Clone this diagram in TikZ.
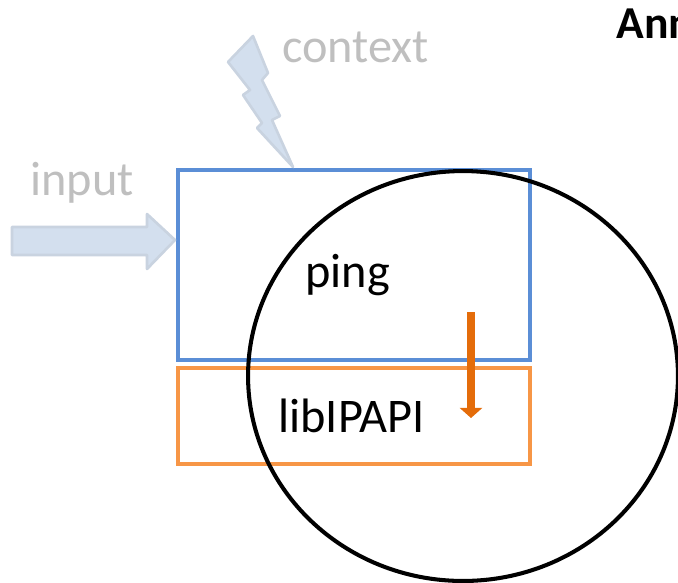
\documentclass[tikz,border=0pt]{standalone}
\usepackage{fontspec}
\setmainfont{Carlito}
\usepackage{tikz}
\usetikzlibrary{arrows.meta, shapes.geometric}
\definecolor{pingBlue}{HTML}{5B8ED6}
\definecolor{libOrange}{HTML}{F79646}
\definecolor{dkOrange}{HTML}{E46C0A}
\definecolor{paleBlue}{HTML}{D3DFEE}
\definecolor{paleEdge}{HTML}{C9D3E0}
\definecolor{txtGrey}{HTML}{BFBFBF}
\tikzstyle{lbl}=[anchor=base west, inner sep=0pt, font=\fontsize{27.5}{32}\selectfont]
\tikzstyle{layer}=[draw, line width=2.3pt, inner sep=0pt, minimum width=7.04cm]
\tikzstyle{pale}=[fill=paleBlue, draw=paleEdge, line width=1.5pt, line join=round]

\begin{document}
\begin{tikzpicture}[x=0.02cm, y=-0.02cm]
    \useasboundingbox (0,0) rectangle (678,582);
    \clip (0,0) rectangle (678,582);
    % the two layers
    \node[layer, draw=pingBlue, minimum height=3.8cm] (ping) at (354,265) {};
    \node[layer, draw=libOrange, minimum height=1.92cm] (lib) at (354,416) {};
    % outside influences
    \draw[pale] (12,227) -- (147,227) -- (147,214) -- (175,240)
        -- (147,269) -- (147,255) -- (12,255) -- cycle;
    \draw[pale] (253,36) -- (268,73) -- (262,80) -- (280,116) -- (272,120)
        -- (293,167) -- (257,128) -- (262,123) -- (243,95) -- (250,90)
        -- (228,62) -- cycle;
    % call going down
    \coordinate (dropTop) at (471,312);
    \coordinate (dropEnd) at (471,418);
    \draw[dkOrange, line width=4.5pt, -{Triangle[width=12.5pt, length=5.7pt]}]
        (dropTop) -- (dropEnd);
    % boundary
    \node[draw, ellipse, line width=2.3pt, minimum width=8.6cm,
        minimum height=8.2cm, inner sep=0pt] (ring) at (463,376) {};
    % texts
    \node[lbl] (pingTxt) at (305,287) {ping};
    \node[lbl] (libTxt) at (278,432) {libIPAPI};
    \node[lbl, text=txtGrey] (inTxt) at (30,195) {input};
    \node[lbl, text=txtGrey] (ctxTxt) at (282,62) {context};
    \node[anchor=base west, inner sep=0pt,
        font=\fontsize{26}{30}\selectfont\bfseries] (title) at (616,38) {Ann};
\end{tikzpicture}
\end{document}
